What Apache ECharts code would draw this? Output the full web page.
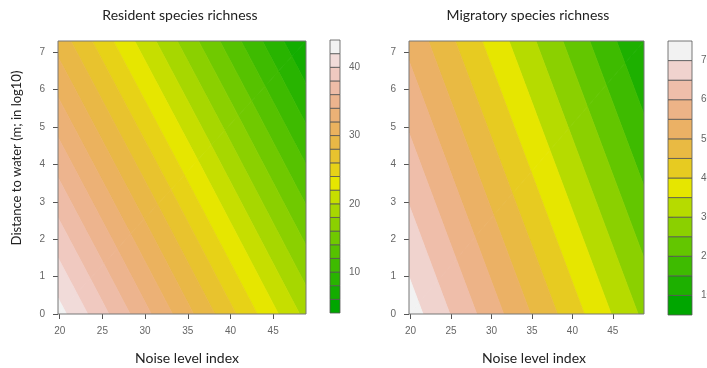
<!DOCTYPE html>
<html>
<head>
<meta charset="utf-8">
<script src="https://cdn.jsdelivr.net/npm/echarts@6/dist/echarts.min.js"></script>
<style>
  html, body { margin: 0; padding: 0; background: #fff; }
  #chart { width: 707px; height: 368px; }
</style>
</head>
<body>
<div id="chart"></div>
<script>
// grid nodes: noise level index (x) and distance to water, log10 (y)
const noiseNodes = [19.8, 48.85]
const distNodes = [0, 7.3]
// richness at the nodes, rows = distance, cols = noise
const residentZ = [
  [42.8, 19.4],
  [29.2, 5.9]
]
const migratoryZ = [
  [72.6, 28.9],
  [53.6, 9.9]
]
const residentLevels = [4, 6, 8, 10, 12, 14, 16, 18, 20, 22, 24, 26, 28, 30, 32, 34, 36, 38, 40, 42, 44]
const migratoryLevels = [5, 10, 15, 20, 25, 30, 35, 40, 45, 50, 55, 60, 65, 70, 75]
const noiseTicks = [20, 25, 30, 35, 40, 45]
const distTicks = [0, 1, 2, 3, 4, 5, 6, 7]
const residentBarTicks = [10, 20, 30, 40]
const migratoryBarTicks = [10, 20, 30, 40, 50, 60, 70]

// R's terrain.colors(n)
function hsv(h, s, v) {
  const i = Math.floor(h * 6) % 6, f = h * 6 - Math.floor(h * 6)
  const p = v * (1 - s), q = v * (1 - f * s), t = v * (1 - (1 - f) * s)
  const rgb = [[v, t, p], [q, v, p], [p, v, t], [p, q, v], [t, p, v], [v, p, q]][i]
  return 'rgb(' + rgb.map(c => Math.round(c * 255)).join(',') + ')'
}
function terrainColors(n) {
  const k = Math.floor(n / 2)
  const cols = []
  for (let i = 0; i < k; i++) {
    const t = k > 1 ? i / (k - 1) : 0
    cols.push(hsv(1 / 3 - t / 6, 1, 0.65 + 0.25 * t))
  }
  for (let j = 1; j <= n - k; j++) {
    const t = j / (n - k)
    cols.push(hsv((1 - t) / 6, 1 - t, 0.9 + 0.05 * t))
  }
  return cols
}

// clip a polygon of [x, y, z] points to sign*(z - lev) >= 0
function clip(poly, lev, sign) {
  const out = []
  for (let i = 0; i < poly.length; i++) {
    const a = poly[i], b = poly[(i + 1) % poly.length]
    const da = sign * (a[2] - lev), db = sign * (b[2] - lev)
    if (da >= 0) out.push(a)
    if ((da >= 0) !== (db >= 0)) {
      const t = da / (da - db)
      out.push([a[0] + t * (b[0] - a[0]), a[1] + t * (b[1] - a[1]), lev])
    }
  }
  return out
}

// filled contour bands from the node grid (triangles, linear inside)
function contourBands(z, levels, colors) {
  const polys = []
  for (let j = 0; j < distNodes.length - 1; j++) {
    for (let i = 0; i < noiseNodes.length - 1; i++) {
      const p00 = [noiseNodes[i], distNodes[j], z[j][i]]
      const p10 = [noiseNodes[i + 1], distNodes[j], z[j][i + 1]]
      const p01 = [noiseNodes[i], distNodes[j + 1], z[j + 1][i]]
      const p11 = [noiseNodes[i + 1], distNodes[j + 1], z[j + 1][i + 1]]
      ;[[p00, p10, p11], [p00, p11, p01]].forEach(tri => {
        for (let k = 0; k < levels.length - 1; k++) {
          let poly = clip(tri, levels[k], 1)
          poly = clip(poly, levels[k + 1], -1)
          if (poly.length >= 3) polys.push({ pts: poly, color: colors[k] })
        }
      })
    }
  }
  return polys
}

const residentColors = terrainColors(residentLevels.length - 1)
const migratoryColors = terrainColors(migratoryLevels.length - 1)
const residentPolys = contourBands(residentZ, residentLevels, residentColors)
const migratoryPolys = contourBands(migratoryZ, migratoryLevels, migratoryColors)

const tickFont = 'Liberation Sans'
const textFont = 'Lato'

function plotXAxis(idx) {
  return {
    gridIndex: idx, type: 'value', min: noiseNodes[0], max: noiseNodes[noiseNodes.length - 1],
    axisLine: { show: false }, splitLine: { show: false },
    axisTick: { show: true, length: 5, customValues: noiseTicks, lineStyle: { color: '#555' } },
    axisLabel: { customValues: noiseTicks, color: '#666', fontSize: 10, fontFamily: tickFont, margin: 12 }
  }
}
function plotYAxis(idx) {
  return {
    gridIndex: idx, type: 'value', min: distNodes[0], max: distNodes[distNodes.length - 1],
    axisLine: { show: false }, splitLine: { show: false },
    axisTick: { show: true, length: 5, customValues: distTicks, lineStyle: { color: '#555' } },
    axisLabel: { customValues: distTicks, color: '#666', fontSize: 10, fontFamily: tickFont, margin: 13 }
  }
}
function barXAxis(idx) {
  return { gridIndex: idx, type: 'value', min: 0, max: 1, show: false }
}
function barYAxis(idx, levels, ticks) {
  return {
    gridIndex: idx, type: 'value', position: 'right', min: levels[0], max: levels[levels.length - 1],
    axisLine: { show: false }, splitLine: { show: false },
    axisTick: { show: true, length: 5, customValues: ticks, lineStyle: { color: '#555' } },
    axisLabel: { customValues: ticks, color: '#666', fontSize: 10, fontFamily: tickFont, margin: 9 }
  }
}

function contourSeries(idx, polys) {
  return {
    type: 'custom', xAxisIndex: idx, yAxisIndex: idx, clip: true, silent: true,
    data: polys.map(p => [p.pts[0][0], p.pts[0][1]]),
    renderItem: (params, api) => {
      const p = polys[params.dataIndex]
      return {
        type: 'polygon',
        shape: { points: p.pts.map(q => api.coord([q[0], q[1]])) },
        style: { fill: p.color, stroke: p.color, lineWidth: 0.8 }
      }
    }
  }
}
function frameSeries(idx) {
  return {
    type: 'custom', xAxisIndex: idx, yAxisIndex: idx, silent: true, z: 5,
    data: [[0, 0]],
    renderItem: params => ({
      type: 'rect',
      shape: { x: params.coordSys.x, y: params.coordSys.y, width: params.coordSys.width, height: params.coordSys.height },
      style: { fill: 'none', stroke: '#777', lineWidth: 1 }
    })
  }
}
function colorBarSeries(idx, levels, colors) {
  return {
    type: 'custom', xAxisIndex: idx, yAxisIndex: idx, silent: true,
    data: levels.slice(0, -1).map((lo, i) => [lo, levels[i + 1]]),
    renderItem: (params, api) => {
      const a = api.coord([0, api.value(0)])
      const b = api.coord([1, api.value(1)])
      return {
        type: 'rect',
        shape: { x: a[0], y: b[1], width: b[0] - a[0], height: a[1] - b[1] },
        style: { fill: colors[params.dataIndex], stroke: '#555', lineWidth: 0.8 }
      }
    }
  }
}

function label(text, x, y, size, rotate) {
  return {
    type: 'text', x: x, y: y, rotation: rotate || 0, silent: true,
    style: {
      text: text, fill: '#222', fontSize: size, fontFamily: textFont,
      align: 'center', verticalAlign: 'middle', textAlign: 'center', textVerticalAlign: 'middle'
    }
  }
}

const chart = echarts.init(document.getElementById('chart'))
chart.setOption({
  animation: false,
  backgroundColor: '#fff',
  grid: [
    { left: 58, top: 41, width: 248, height: 273, containLabel: false, outerBoundsMode: 'none' },
    { left: 330, top: 40, width: 10, height: 273, containLabel: false, outerBoundsMode: 'none' },
    { left: 409, top: 41, width: 235, height: 273, containLabel: false, outerBoundsMode: 'none' },
    { left: 668, top: 41, width: 24, height: 274, containLabel: false, outerBoundsMode: 'none' }
  ],
  xAxis: [plotXAxis(0), barXAxis(1), plotXAxis(2), barXAxis(3)],
  yAxis: [
    plotYAxis(0),
    barYAxis(1, residentLevels, residentBarTicks),
    plotYAxis(2),
    barYAxis(3, migratoryLevels, migratoryBarTicks)
  ],
  series: [
    contourSeries(0, residentPolys),
    frameSeries(0),
    colorBarSeries(1, residentLevels, residentColors),
    contourSeries(2, migratoryPolys),
    frameSeries(2),
    colorBarSeries(3, migratoryLevels, migratoryColors)
  ],
  graphic: [
    label('Resident species richness', 180, 15, 14),
    label('Migratory species richness', 528, 15, 14),
    label('Noise level index', 187, 358, 14),
    label('Noise level index', 534, 358, 14),
    label('Distance to water (m; in log10)', 17, 158, 13, Math.PI / 2)
  ]
})
</script>
</body>
</html>
